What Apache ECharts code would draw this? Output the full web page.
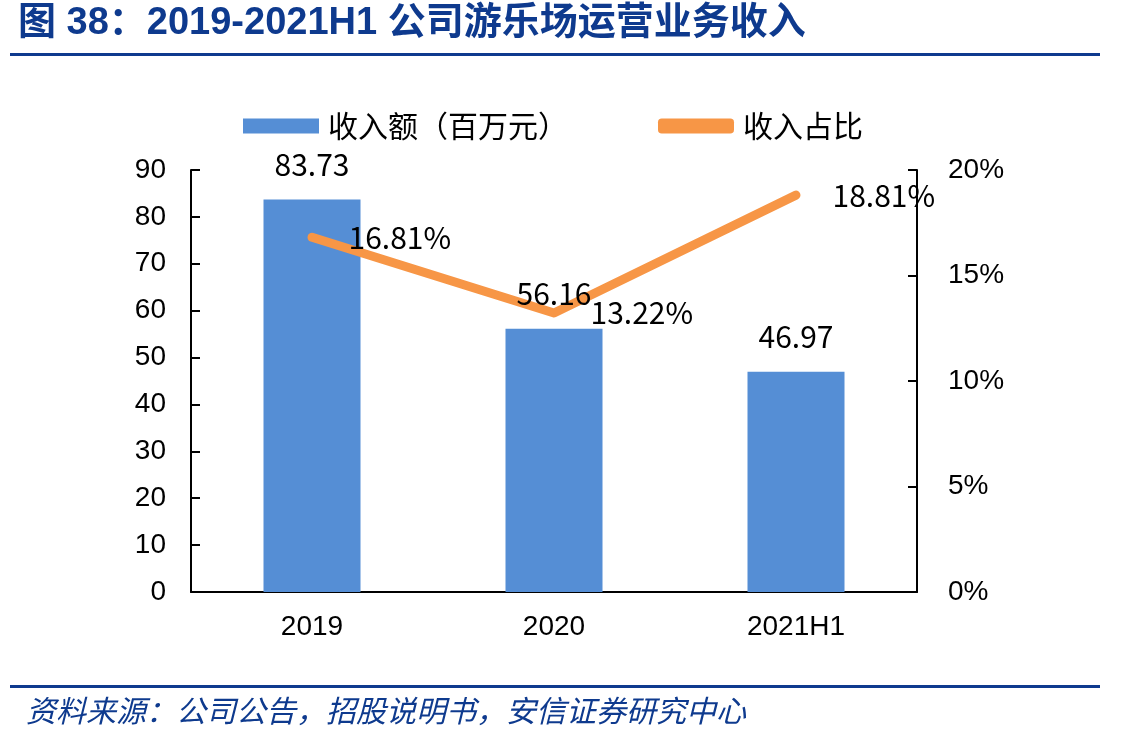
<!DOCTYPE html>
<html>
<head>
<meta charset="utf-8">
<script src="https://cdn.jsdelivr.net/npm/echarts@6/dist/echarts.min.js"></script>
<style>
  html, body { margin: 0; padding: 0; background: #fff; }
  #chart { width: 1147px; height: 743px; }
</style>
</head>
<body>
<div id="chart"></div>
<script>
// data
const categories = ['2019', '2020', '2021H1'];
const revenue = [83.73, 56.16, 46.97];        // 收入额（百万元）
const revenueShare = [16.81, 13.22, 18.81];   // 收入占比, %

const titleText = '图 38：2019-2021H1 公司游乐场运营业务收入';
const sourceText = '资料来源：公司公告，招股说明书，安信证券研究中心';

const blue = '#558ED5';
const orange = '#F79646';
const navy = '#0E3A8E';

var chart = echarts.init(document.getElementById('chart'));

chart.setOption({
  animation: false,
  grid: { left: 191, right: 230, top: 170, bottom: 151 },
  legend: {
    top: 106,
    left: 238,
    itemGap: 90,
    itemWidth: 76,
    itemHeight: 15,
    textStyle: { fontSize: 30, color: '#000', fontFamily: 'Noto Sans CJK SC', padding: [0, 0, 0, 4] },
    data: [
      { name: '收入额（百万元）', icon: 'rect' },
      { name: '收入占比', icon: 'roundRect', itemStyle: { color: orange } }
    ]
  },
  xAxis: {
    type: 'category',
    data: categories,
    axisLine: { lineStyle: { color: '#000', width: 2 } },
    axisTick: { show: false },
    axisLabel: { fontSize: 28, color: '#000', fontFamily: 'Liberation Sans', margin: 21 }
  },
  yAxis: [
    {
      type: 'value',
      min: 0, max: 90, interval: 10,
      splitLine: { show: false },
      axisLine: { show: true, lineStyle: { color: '#000', width: 2 } },
      axisTick: { show: true, inside: true, length: 9, lineStyle: { color: '#000', width: 2 } },
      axisLabel: { fontSize: 28, color: '#000', fontFamily: 'Liberation Sans', margin: 25 }
    },
    {
      type: 'value',
      min: 0, max: 20, interval: 5,
      splitLine: { show: false },
      axisLine: { show: true, lineStyle: { color: '#000', width: 2 } },
      axisTick: { show: true, inside: true, length: 9, lineStyle: { color: '#000', width: 2 } },
      axisLabel: { fontSize: 28, color: '#000', fontFamily: 'Liberation Sans', margin: 31, formatter: '{value}%' }
    }
  ],
  series: [
    {
      name: '收入额（百万元）',
      type: 'bar',
      data: revenue,
      barWidth: 97,
      itemStyle: { color: blue },
      z: 2
    },
    {
      name: '收入占比',
      type: 'line',
      yAxisIndex: 1,
      data: revenueShare,
      symbol: 'circle',
      symbolSize: 1,
      showSymbol: true,
      lineStyle: { color: orange, width: 9, cap: 'round', join: 'round' },
      itemStyle: { color: orange },
      label: {
        show: true, position: 'right', distance: 36,
        fontSize: 30, color: '#000', fontFamily: 'Noto Sans CJK SC',
        formatter: p => p.value.toFixed(2) + '%'
      },
      labelLayout: { hideOverlap: false },
      z: 3
    },
    {
      // value labels of the bars, drawn above the line
      name: 'barLabels',
      type: 'bar',
      data: revenue,
      barWidth: 97,
      barGap: '-100%',
      itemStyle: { color: 'rgba(0,0,0,0)' },
      label: {
        show: true, position: 'top', distance: 20,
        fontSize: 30, color: '#000', fontFamily: 'Noto Sans CJK SC',
        formatter: p => p.value.toFixed(2)
      },
      silent: true,
      z: 5
    }
  ],
  graphic: [
    {
      type: 'text', left: 18, top: 5,
      style: { text: titleText, fontSize: 38, fontWeight: 'bold', fill: navy, fontFamily: 'Liberation Sans, Noto Sans CJK SC' }
    },
    { type: 'rect', shape: { x: 10, y: 53, width: 1090, height: 3 }, style: { fill: navy } },
    { type: 'rect', shape: { x: 10, y: 685, width: 1090, height: 3 }, style: { fill: navy } },
    {
      type: 'text', left: 26, top: 696,
      style: { text: sourceText, fontSize: 30, fontStyle: 'italic', fill: navy, fontFamily: 'Noto Sans CJK SC' }
    }
  ]
});
</script>
</body>
</html>
